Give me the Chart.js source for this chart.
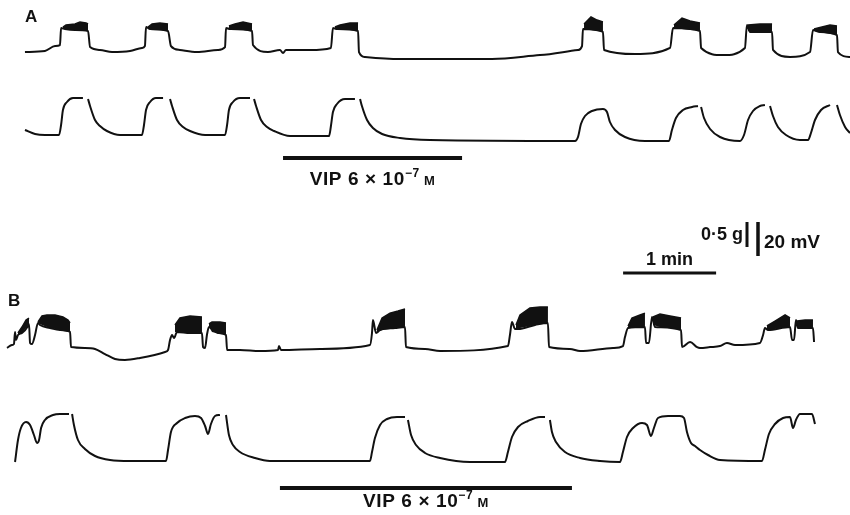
<!DOCTYPE html>
<html>
<head>
<meta charset="utf-8">
<script src="https://cdn.jsdelivr.net/npm/chart.js@4.4.1/dist/chart.umd.min.js"></script>
<style>
  html, body { margin: 0; padding: 0; background: #fff; }
  #wrap { width: 850px; height: 515px; position: relative; }
</style>
</head>
<body>
<div id="wrap"><canvas id="c"></canvas></div>
<script>
/* Time in seconds (1 min bar = 93 px), membrane potential in mV above the lowest
   level of each trace, tension in g above baseline. Gaps in the pen = null. */

const aElec = [[16.1,4.7],[29,5.3],[35.5,8.2],[38.7,8.8],[39.4,18.8],[41.9,18.2],[48.4,17.6],[56.8,17.1],[58.1,7.6],[64.5,5.9],[72.3,4.7],[83.9,5.3],[91.6,7.1],[93.5,8.2],[94.2,19.4],[96.8,18.2],[108.4,17.1],[110.3,8.2],[116.1,5.9],[127.1,4.7],[140.6,5.9],[145.2,7.6],[145.8,18.8],[148.4,18.2],[162.6,17.1],[163.2,8.8],[172.9,4.7],[180.6,5.9],[182.6,4.1],[184.5,5.9],[200,5.9],[213.5,7.1],[214.8,18.8],[217.4,18.2],[231,17.1],[231.6,4.7],[235.5,1.8],[258.1,0.6],[317.4,0.6],[348.4,2.9],[372.9,5.9],[375.5,8.2],[376.1,18.2],[389,16.5],[389.7,5.9],[409.7,3.5],[432.3,7.1],[434.2,18.8],[451.6,17.1],[452.3,7.1],[466.5,2.9],[480.6,7.1],[481.9,20.6],[483.9,16.5],[498.1,16.5],[498.7,5.9],[509.7,1.8],[522.6,4.7],[524.5,17.6],[529,16.5],[540,14.7],[540.6,4.7],[548.4,1.8]];

// spike bursts: [t, plateau, spike envelope]
const aElecBursts = [
  [[40.6,18.2,19.4],[42.6,18.2,20.6],[48.4,17.6,21.2],[51.6,17.6,22.4],[55.5,17.1,21.8],[56.8,17.1,21.2]],
  [[95.5,18.2,19.4],[98.1,18.2,21.2],[103.2,17.6,21.8],[108.4,17.1,21.2]],
  [[147.7,18.2,20],[151.6,17.6,21.2],[156.8,17.6,22.4],[162.6,17.1,21.2]],
  [[216.1,18.2,19.4],[219.4,18.2,20.6],[225.8,17.6,21.8],[231,17.1,21.8]],
  [[376.8,18.2,21.2],[381.3,17.6,25.3],[385.2,17.1,23.5],[389,16.5,22.4]],
  [[434.8,18.8,20.6],[440,18.2,24.7],[445.2,17.6,22.9],[451.6,17.1,21.8]],
  [[482.6,17.1,20.6],[490.3,16.5,21.2],[498.1,16.5,21.2]],
  [[525.2,17.1,18.2],[527.7,16.5,18.8],[535.5,15.3,20.6],[540,14.7,20]],
];

const aMech = [[16.1,0.22],[22.6,0.14],[29,0.12],[38.1,0.12],[39.4,0.32],[40.6,0.62],[43.2,0.78],[47.1,0.86],[53.5,0.86],[55,null],[56.8,0.84],[58.1,0.7],[61.3,0.42],[64.5,0.3],[69,0.2],[77.4,0.12],[91.6,0.12],[92.9,0.32],[94.2,0.62],[96.8,0.78],[100.6,0.86],[105.2,0.86],[107,null],[109.7,0.84],[111,0.7],[114.2,0.42],[118.1,0.28],[122.6,0.2],[132.3,0.12],[145.2,0.12],[146.5,0.32],[147.7,0.62],[150.3,0.78],[154.8,0.86],[161.3,0.86],[162.5,null],[163.9,0.84],[165.2,0.7],[168.4,0.42],[172.3,0.28],[176.8,0.2],[187.1,0.1],[212.3,0.1],[213.5,0.3],[214.8,0.58],[217.4,0.74],[222.6,0.84],[229,0.84],[230.5,null],[232.3,0.84],[233.5,0.7],[236.8,0.42],[240.6,0.26],[246.5,0.14],[258.1,0.06],[277.4,0.02],[371,0],[372.9,0.08],[374.8,0.34],[377.4,0.5],[381.9,0.6],[389,0.64],[391.6,0.58],[393.5,0.38],[396.8,0.22],[403.2,0.08],[416.1,0],[431.6,0],[433.5,0.22],[436.1,0.46],[440.6,0.62],[446.5,0.68],[450.3,0.7],[451.3,null],[452.3,0.68],[454.2,0.46],[458.1,0.24],[464.5,0.08],[477.4,0],[480,0.12],[482.6,0.42],[485.8,0.6],[490.3,0.7],[493.5,0.72],[495,null],[496.8,0.7],[498.7,0.5],[501.9,0.28],[507.1,0.12],[516.1,0.02],[521.3,0.02],[523.2,0.16],[525.8,0.42],[529.7,0.62],[535.5,0.72],[537.5,null],[540,0.72],[541.9,0.52],[545.2,0.28],[548.4,0.16]];

const bElec = [[4.5,7.1],[7.7,8.8],[9,9.4],[9.7,16.5],[10.3,11.8],[11.6,14.7],[14.2,15.9],[18.1,20],[18.7,21.2],[19.4,10],[20.6,9.4],[22.6,14.7],[24.5,21.8],[25.8,20.6],[32.3,18.8],[38.7,17.6],[45.2,16.5],[45.8,7.6],[54.8,7.1],[61.3,6.5],[67.7,3.5],[74.2,0.6],[80.6,0],[90.3,1.2],[106.5,4.7],[108.4,5.9],[109.7,11.8],[111,14.7],[112.3,12.9],[114.2,16.5],[122.6,15.9],[130.3,15.9],[131,7.6],[132.3,7.1],[133.5,14.7],[134.8,19.4],[140.6,15.9],[145.8,14.7],[146.5,5.9],[154.8,5.9],[167.7,5.3],[179.4,5.9],[180,8.2],[181.3,5.9],[206.5,6.5],[238.7,8.8],[240,15.9],[240.6,23.5],[242.6,15.9],[245.2,17.6],[254.8,18.8],[261.3,19.4],[261.9,7.6],[274.2,6.5],[283.9,5.3],[327.7,8.2],[329,14.7],[330.3,22.4],[332.3,18.2],[334.2,18.2],[345.2,20.6],[353.5,21.8],[354.2,7.6],[367.7,6.5],[374.2,5.3],[395.5,7.1],[401.9,8.2],[403.2,13.5],[405.2,18.8],[416.1,19.4],[416.8,10],[418.7,10],[420.6,25.3],[422.6,19.4],[439.4,17.6],[440,7.6],[445.2,10.6],[449.7,7.6],[451.6,7.1],[458.1,7.6],[464.5,8.2],[469,10],[474.2,8.8],[490.3,10],[492.3,14.7],[493.5,18.8],[495.5,17.6],[509.7,19.4],[511,11.8],[512.3,11.8],[513.5,23.5],[514.8,18.8],[524.5,18.8],[525.2,10.6]];

const bElecBursts = [
  [[11.6,14.7,15.9],[14.2,15.9,19.4],[16.8,18.8,23.5],[18.7,21.2,24.7]],
  [[24.5,21.8,22.4],[27.1,20.6,25.9],[30.3,19.4,26.5],[35.5,18.2,26.5],[40.6,17.1,25.3],[43.9,16.5,23.5],[45.2,16.5,21.8]],
  [[112.9,16.5,20.6],[116.1,16.5,24.7],[122.6,15.9,25.9],[130.3,15.9,25.3]],
  [[134.8,19.4,21.2],[136.8,16.5,22.4],[141.9,15.3,22.4],[145.8,14.7,21.8]],
  [[243.2,16.5,17.6],[246.5,17.6,24.7],[251.6,18.2,27.6],[256.8,18.8,28.8],[261.3,19.4,30]],
  [[332.9,18.2,20.6],[335.5,18.8,26.5],[341.9,20,30.6],[348.4,21.2,31.2],[353.5,21.8,31.2]],
  [[405.2,18.8,20],[407.7,18.8,24.7],[412.9,19.4,26.5],[416.1,19.4,27.6]],
  [[421.3,20.6,25.3],[425.8,19.4,27.1],[432.3,18.8,25.9],[439.4,17.6,24.7]],
  [[494.8,17.6,20],[500,18.2,22.9],[506.5,19.4,26.5],[509.7,19.4,24.7]],
  [[514.2,18.8,22.9],[519.4,18.8,23.5],[524.5,18.8,23.5]],
];

const bMech = [[9.7,0],[11.6,0.44],[13.5,0.68],[16.8,0.8],[19.4,0.74],[21.9,0.54],[23.9,0.38],[25.2,0.44],[26.5,0.68],[29,0.84],[34.2,0.94],[38.7,0.96],[44.5,0.96],[45.5,null],[46.5,0.96],[47.7,0.74],[50.3,0.44],[54.8,0.26],[61.3,0.12],[71,0.04],[83.9,0.02],[107.1,0.02],[108.4,0.24],[110.3,0.6],[114.2,0.78],[119.4,0.88],[125.8,0.92],[129.7,0.88],[132.3,0.72],[134.2,0.56],[136.1,0.76],[138.7,0.92],[141.9,0.94],[143.5,null],[145.8,0.94],[147.7,0.54],[150.3,0.34],[154.8,0.2],[164.5,0.08],[174.2,0.02],[238.7,0.02],[240,0.2],[241.9,0.48],[245.2,0.74],[249.7,0.86],[256.1,0.9],[261.3,0.9],[262.3,null],[263.2,0.84],[265.2,0.54],[268.4,0.34],[274.2,0.18],[283.9,0.08],[303.2,0],[325.8,0],[327.7,0.2],[330.3,0.5],[334.2,0.7],[340.6,0.82],[348.4,0.9],[351.6,0.9],[353,null],[354.8,0.84],[356.1,0.6],[358.7,0.4],[364.5,0.2],[374.2,0.08],[387.1,0.02],[400,0],[401.9,0.2],[404.5,0.5],[408.4,0.68],[414.2,0.78],[417.4,0.74],[420,0.52],[421.9,0.68],[424.5,0.88],[431,0.92],[438.7,0.92],[441.3,0.88],[443.2,0.6],[445.8,0.38],[448.4,0.32],[451.6,0.24],[456.8,0.14],[464.5,0.04],[491.6,0.02],[493.5,0.24],[496.1,0.56],[500,0.76],[505.2,0.88],[509.7,0.9],[511.6,0.68],[513.5,0.84],[516.1,0.96],[523.9,0.96],[525.8,0.76]];

// VIP application periods (s) and the 1-min calibration bar (s)
const vipA = [182.6, 298.1];
const vipB = [180.6, 369.0];
const minBar = [402, 462];
const calib = { g: 0.5, mV: 20 };

/* ---- layout ---- */
const W = 850, H = 515;
const INK = '#111';
const FONT = '"Liberation Sans", Arial, sans-serif';

// each trace gets its own hidden y axis: baseline pixel + pixels per unit
function traceAxis(basePx, pxPerUnit) {
    return { display: false, min: (basePx - H) / pxPerUnit, max: basePx / pxPerUnit };
}

const pts = (arr, k = 1) => arr.map((p) => ({ x: p[0], y: p[k] }));

function traceSet(arr, axis) {
    return {
        data: pts(arr), yAxisID: axis, borderColor: INK, borderWidth: 2,
        pointRadius: 0, fill: false, cubicInterpolationMode: 'monotone',
    };
}

function burstSets(bursts, axis) {
    const out = [];
    for (const b of bursts) {
        out.push({ data: pts(b, 1), yAxisID: axis, borderWidth: 0, pointRadius: 0, fill: false });
        out.push({
            data: pts(b, 2), yAxisID: axis, borderColor: INK, borderWidth: 1.5,
            pointRadius: 0, fill: '-1', backgroundColor: INK,
        });
    }
    return out;
}

function drawVip(ctx, cx, baseline) {
    const parts = [
        { t: 'VIP 6 × 10', f: 'bold 19px ' + FONT, dy: 0 },
        { t: '−7', f: 'bold 12px ' + FONT, dy: -8 },
        { t: ' M', f: 'bold 13px ' + FONT, dy: 0 },
    ];
    ctx.letterSpacing = '0.6px';
    let total = 0;
    for (const p of parts) { ctx.font = p.f; p.w = ctx.measureText(p.t).width; total += p.w; }
    let x = cx - total / 2;
    for (const p of parts) { ctx.font = p.f; ctx.fillText(p.t, x, baseline + p.dy); x += p.w; }
    ctx.letterSpacing = '0px';
}

const annotations = {
    id: 'annotations',
    afterDatasetsDraw(chart) {
        const { ctx, scales } = chart;
        const xs = scales.x;
        ctx.save();
        ctx.fillStyle = INK;
        ctx.strokeStyle = INK;
        ctx.textBaseline = 'alphabetic';

        ctx.font = 'bold 17px ' + FONT;
        ctx.fillText('A', 25, 22);
        ctx.fillText('B', 8, 306);

        // VIP bars
        const vip = [[vipA, 158, 185], [vipB, 488, 507]];
        for (const [v, y, ty] of vip) {
            const x0 = xs.getPixelForValue(v[0]), x1 = xs.getPixelForValue(v[1]);
            ctx.lineWidth = 4;
            ctx.beginPath(); ctx.moveTo(x0, y); ctx.lineTo(x1, y); ctx.stroke();
            drawVip(ctx, (x0 + x1) / 2, ty);
        }

        // 1 min bar
        const m0 = xs.getPixelForValue(minBar[0]), m1 = xs.getPixelForValue(minBar[1]);
        ctx.lineWidth = 3;
        ctx.beginPath(); ctx.moveTo(m0, 273); ctx.lineTo(m1, 273); ctx.stroke();
        ctx.font = 'bold 18px ' + FONT;
        ctx.textAlign = 'center';
        ctx.fillText('1 min', (m0 + m1) / 2, 265);

        // 0.5 g and 20 mV bars, sized from the trace axes
        const ym = scales.yBm, ye = scales.yBe;
        const gLen = Math.abs(ym.getPixelForValue(calib.g) - ym.getPixelForValue(0));
        const vLen = Math.abs(ye.getPixelForValue(calib.mV) - ye.getPixelForValue(0));
        ctx.beginPath(); ctx.moveTo(747, 247); ctx.lineTo(747, 247 - gLen); ctx.stroke();
        ctx.lineWidth = 3.5;
        ctx.beginPath(); ctx.moveTo(758, 256); ctx.lineTo(758, 256 - vLen); ctx.stroke();
        ctx.textAlign = 'right';
        ctx.fillText('0·5 g', 743, 240);
        ctx.textAlign = 'left';
        ctx.font = 'bold 19px ' + FONT;
        ctx.fillText('20 mV', 764, 248);
        ctx.restore();
    },
};

new Chart(document.getElementById('c'), {
    type: 'line',
    data: {
        datasets: [
            ...burstSets(aElecBursts, 'yAe'),
            ...burstSets(bElecBursts, 'yBe'),
            traceSet(aElec, 'yAe'),
            traceSet(aMech, 'yAm'),
            traceSet(bElec, 'yBe'),
            traceSet(bMech, 'yBm'),
        ],
    },
    options: {
        responsive: true,
        maintainAspectRatio: false,
        animation: false,
        events: [],
        layout: { padding: 0 },
        plugins: { legend: { display: false }, tooltip: { enabled: false } },
        scales: {
            x: { type: 'linear', display: false, min: 0, max: W * 60 / 93 },
            yAe: traceAxis(60, 1.7),
            yAm: traceAxis(141, 50),
            yBe: traceAxis(360, 1.7),
            yBm: traceAxis(462, 50),
        },
    },
    plugins: [annotations],
});
</script>
</body>
</html>
